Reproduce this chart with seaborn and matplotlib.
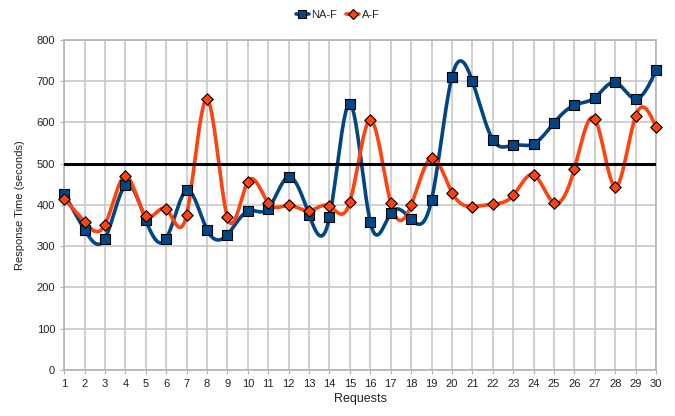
import numpy as np
import pandas as pd
import matplotlib
matplotlib.use("Agg")
import matplotlib.pyplot as plt
import seaborn as sns

# Данные
requests = list(range(1, 31))
na_f = [427, 340, 318, 447, 363, 318, 435, 340, 328, 385,
        391, 468, 376, 370, 645, 358, 380, 365, 412, 711,
        700, 558, 545, 548, 599, 642, 660, 697, 657, 726]
a_f = [415, 359, 352, 470, 374, 390, 376, 656, 370, 456,
       405, 399, 386, 397, 407, 606, 404, 399, 514, 430,
       396, 402, 423, 473, 405, 488, 608, 444, 616, 588]
threshold = 500

blue = "#004586"
orange = "#ff420e"


# Натуральный кубический сплайн (сглаживание линии как в LibreOffice)
def spline(x, y, n=20):
    x = np.asarray(x, float)
    y = np.asarray(y, float)
    k = len(x)
    h = np.diff(x)
    A = np.zeros((k, k))
    b = np.zeros(k)
    A[0, 0] = A[-1, -1] = 1
    for i in range(1, k - 1):
        A[i, i - 1] = h[i - 1]
        A[i, i] = 2 * (h[i - 1] + h[i])
        A[i, i + 1] = h[i]
        b[i] = 3 * ((y[i + 1] - y[i]) / h[i] - (y[i] - y[i - 1]) / h[i - 1])
    c = np.linalg.solve(A, b)
    xs, ys = [], []
    for i in range(k - 1):
        bi = (y[i + 1] - y[i]) / h[i] - h[i] * (2 * c[i] + c[i + 1]) / 3
        di = (c[i + 1] - c[i]) / (3 * h[i])
        t = np.linspace(0, h[i], n, endpoint=(i == k - 2))
        xs.append(x[i] + t)
        ys.append(y[i] + bi * t + c[i] * t ** 2 + di * t ** 3)
    return np.concatenate(xs), np.concatenate(ys)


sns.set_style("white")
plt.rcParams["font.family"] = ["Liberation Sans", "DejaVu Sans"]

fig = plt.figure(figsize=(6.75, 4.16), dpi=100)
ax = fig.add_axes([0.095, 0.111, 0.877, 0.793])

sx, sy = spline(requests, na_f)
sns.lineplot(x=sx, y=sy, ax=ax, color=blue, linewidth=2.6, zorder=3)
sx, sy = spline(requests, a_f)
sns.lineplot(x=sx, y=sy, ax=ax, color=orange, linewidth=2.6, zorder=4)

sns.scatterplot(x=requests, y=na_f, ax=ax, marker="s", s=60, color=blue,
                edgecolor="black", linewidth=0.8, zorder=5, clip_on=False)
sns.scatterplot(x=requests, y=a_f, ax=ax, marker="D", s=34, color=orange,
                edgecolor="black", linewidth=0.8, zorder=6, clip_on=False)

ax.axhline(threshold, color="black", linewidth=2.2, zorder=7)

ax.set_xlim(1, 30)
ax.set_ylim(0, 800)
ax.set_xticks(requests)
ax.set_yticks(range(0, 801, 100))
ax.grid(True, color="#c8c8c8", linewidth=1.2)
ax.set_axisbelow(True)
for s in ax.spines.values():
    s.set_color("#b3b3b3")
    s.set_linewidth(1.2)
ax.tick_params(axis="both", labelsize=8, colors="#b3b3b3", labelcolor="#222222",
               length=3, direction="out", left=True, bottom=True)
ax.set_xlabel("Requests", fontsize=9, color="#222222", labelpad=3)
ax.set_ylabel("Response Time (seconds)", fontsize=8, color="#222222", labelpad=8)

handles = [
    plt.Line2D([], [], color=blue, linewidth=2.6, marker="s", markersize=6,
               markeredgecolor="black", markeredgewidth=0.8),
    plt.Line2D([], [], color=orange, linewidth=2.6, marker="D", markersize=5,
               markeredgecolor="black", markeredgewidth=0.8),
]
fig.legend(handles, ["NA-F", "A-F"], loc="center", bbox_to_anchor=(0.5, 0.965),
           ncol=2, frameon=False, fontsize=8, handlelength=1.2,
           handletextpad=0.2, columnspacing=0.8)

fig.savefig("out.png", dpi=100)
